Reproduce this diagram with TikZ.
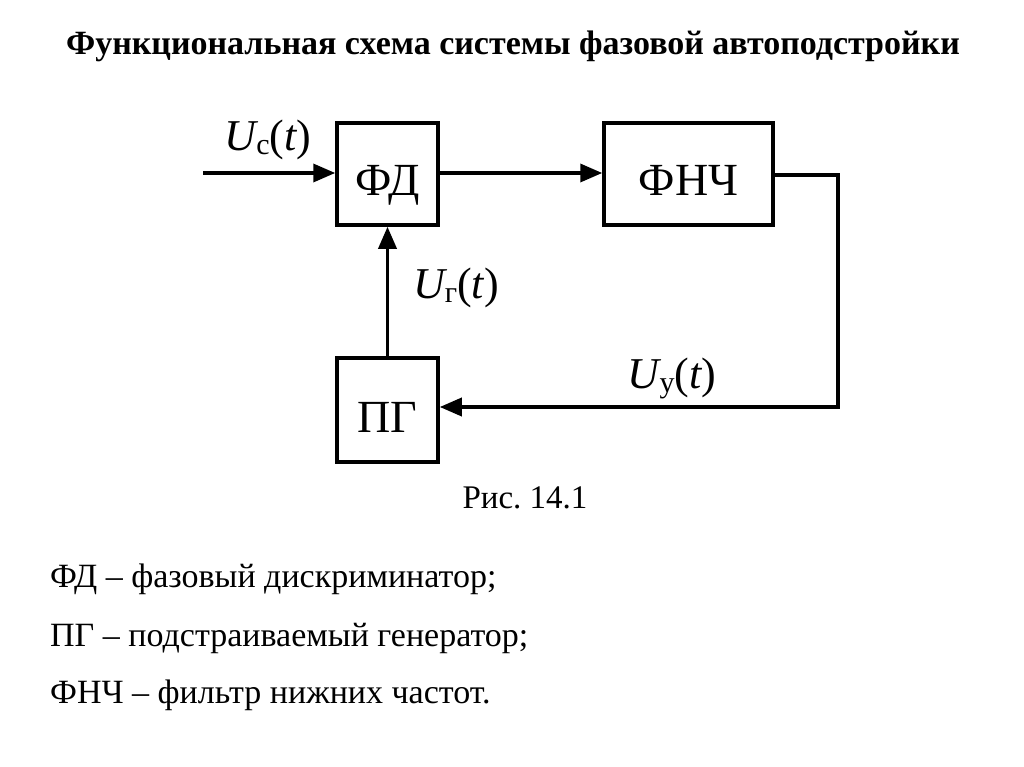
\documentclass[tikz,border=0pt]{standalone}
\usepackage{fontspec}
\setmainfont{Liberation Serif}
\usetikzlibrary{arrows.meta}
\frenchspacing
\newcommand{\sigl}[1]{{\itshape U}\raisebox{-4pt}{\fontsize{30}{30}\selectfont #1}({\itshape t})}
\begin{document}
\begin{tikzpicture}[x=1pt,y=-1pt,
  blk/.style={draw,line width=3.5pt,inner sep=0pt,text height=44pt,text depth=0pt,font=\fontsize{46}{50}\selectfont},
  conn/.style={line width=3.5pt,line join=miter,-{Triangle[length=22pt,width=18pt]}},
  sig/.style={font=\fontsize{44}{48}\selectfont,inner sep=0pt},
  leg/.style={font=\fontsize{34}{38}\selectfont,anchor=base west,inner sep=0pt}]
\useasboundingbox (0,0) rectangle (1024,767);
\node[font=\bfseries\fontsize{34}{38}\selectfont,anchor=base,inner sep=0pt] (title) at (513,55) {Функциональная схема системы фазовой автоподстройки};
\node[blk,minimum width=101pt,minimum height=102pt] (fd) at (387.5,174) {ФД};
\node[blk,minimum width=169pt,minimum height=102pt] (fnc) at (688.5,174) {ФНЧ};
\node[blk,minimum width=101pt,minimum height=104pt] (pg) at (387.5,410) {ПГ};
\coordinate (in) at (203,173);
\coordinate (r1) at (838,175);
\coordinate (r2) at (838,407);
\draw[conn] (in) -- (in -| fd.west);
\draw[conn] (fd.east |- 0,173) -- (fnc.west |- 0,173);
\draw[conn] (fnc.east |- r1) -- (r1) -- (r2) -- (pg.east |- r2);
\draw[conn] (pg.north) -- (fd.south);
\node[sig] (uc) at (268,140) {\sigl{с}};
\node[sig] (ug) at (456,288) {\sigl{г}};
\node[sig] (uy) at (672,378) {\sigl{у}};
\node[font=\fontsize{33}{36}\selectfont,anchor=base,inner sep=0pt] (fig) at (525,508) {Рис. 14.1};
\node[leg] (l1) at (50,587) {ФД – фазовый дискриминатор;};
\node[leg] (l2) at (50,646) {ПГ – подстраиваемый генератор;};
\node[leg] (l3) at (50,703) {ФНЧ – фильтр нижних частот.};
\end{tikzpicture}
\end{document}
